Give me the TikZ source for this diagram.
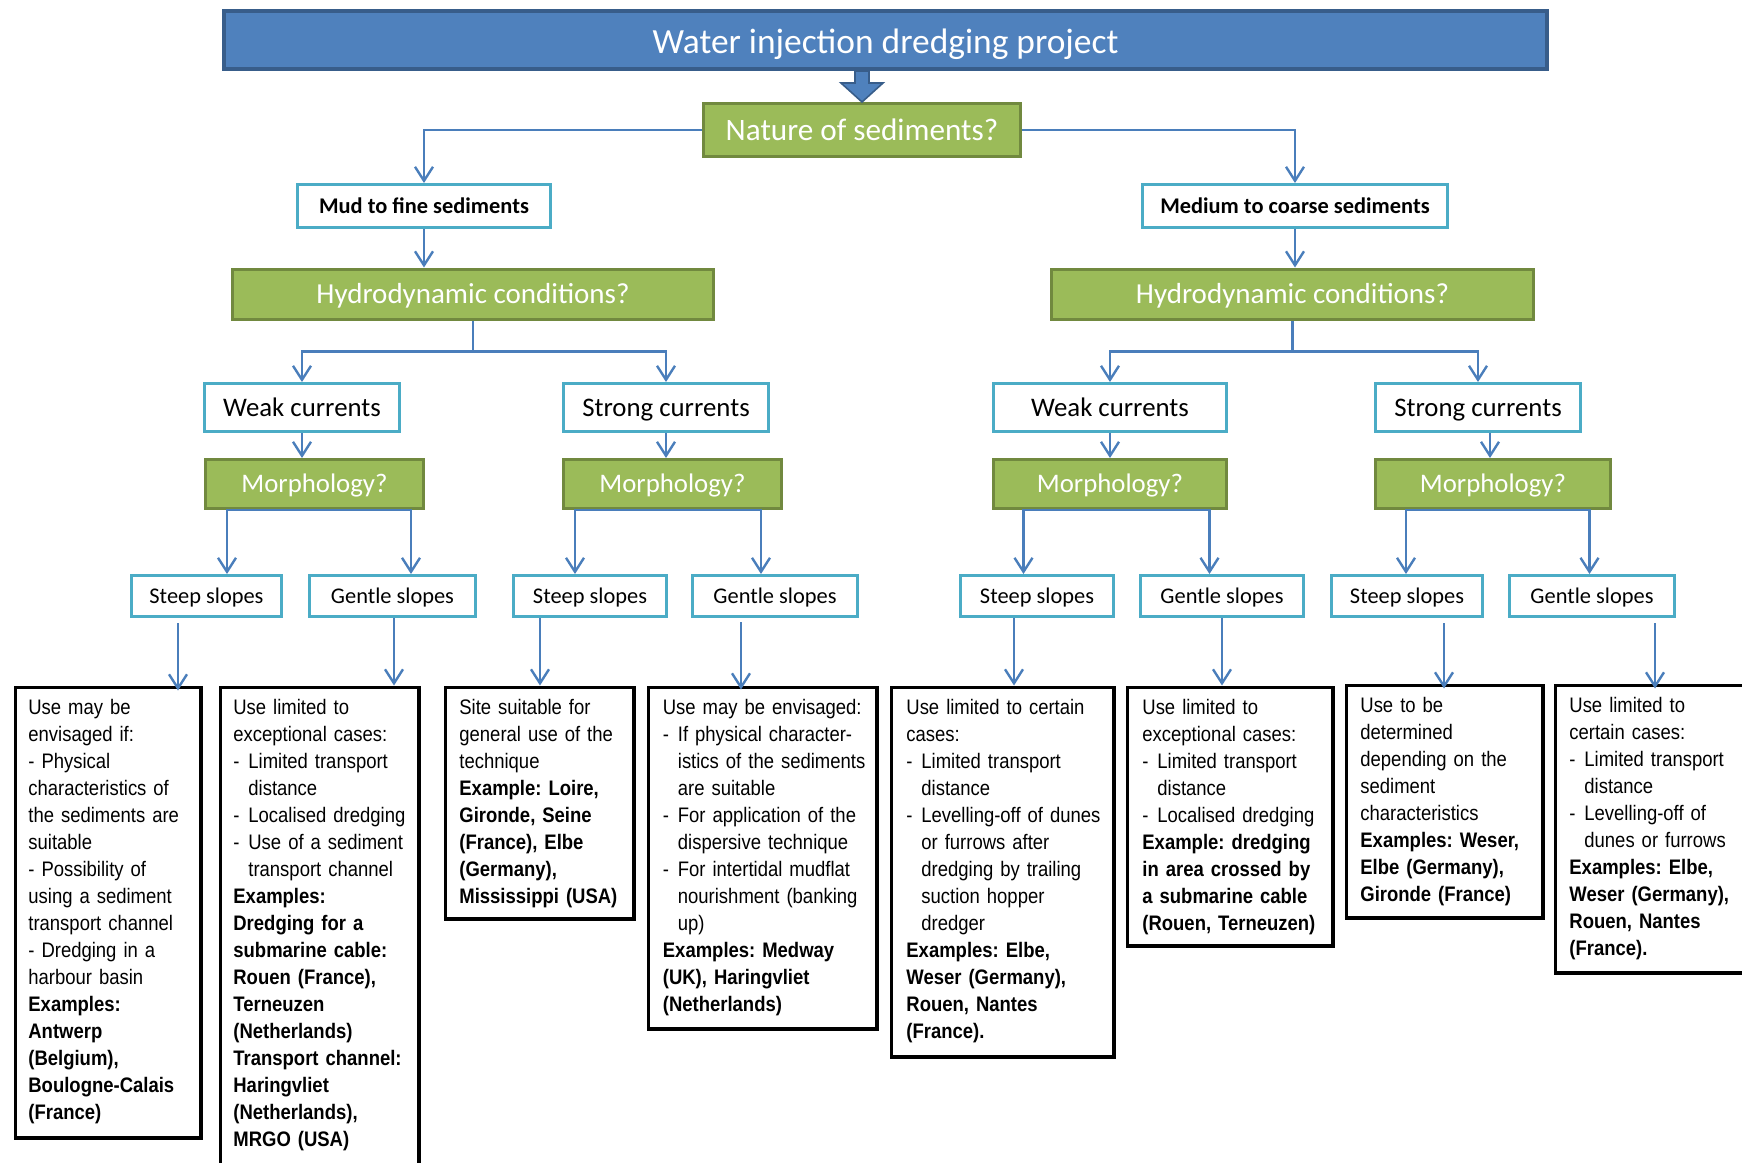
\documentclass[tikz,border=0pt]{standalone}
\usepackage{fontspec}
\setmainfont{Carlito}
\newfontfamily\boxfont[FakeStretch=0.88]{Liberation Sans}
\newfontfamily\labfont{Carlito}
\usetikzlibrary{arrows.meta,calc}
\definecolor{tblue}{HTML}{4F81BD}
\definecolor{tbluedark}{HTML}{385D8A}
\definecolor{tgreen}{HTML}{9BBB59}
\definecolor{tgreendark}{HTML}{71893F}
\definecolor{taqua}{HTML}{4BACC6}
\definecolor{cblue}{HTML}{4A7EBB}
\newcommand\myitem[1]{\makebox[7.5pt][l]{-}#1}
\newcommand\myind{\hspace*{7.5pt}}
\frenchspacing
\begin{document}
\frenchspacing
\begin{tikzpicture}[x=0.5pt,y=-0.5pt,
  every node/.style={inner sep=0pt},
  titlebox/.style={draw=tbluedark, fill=tblue, line width=2pt, text=white,
     font=\labfont\fontsize{17.7pt}{20pt}\selectfont, text height=13.2pt, text depth=0pt},
  qbox/.style={draw=tgreendark, fill=tgreen, line width=1.5pt, text=white},
  abox/.style={draw=taqua, fill=white, line width=1.5pt, text=black},
  tbox/.style={draw=black, line width=1.65pt, anchor=north west},
  ttext/.style={anchor=base west, text width=140pt, align=left,
     font=\boxfont\fontsize{10.5pt}{13.5pt}\selectfont\frenchspacing},
  conn/.style={draw=cblue, line width=1.2pt, -{Straight Barb[length=7pt,width=9pt]}},
  natq/.style={qbox, font=\labfont\fontsize{15.6pt}{18pt}\selectfont, text height=10pt, text depth=0pt},
  bigq/.style={qbox, font=\labfont\fontsize{14.5pt}{18pt}\selectfont, text height=9.3pt, text depth=0pt},
  midq/.style={qbox, font=\labfont\fontsize{13.4pt}{16pt}\selectfont, text height=8.6pt, text depth=0pt},
  mida/.style={abox, font=\labfont\fontsize{13.4pt}{16pt}\selectfont, text height=8.6pt, text depth=0pt},
  smalla/.style={abox, font=\labfont\fontsize{11.2pt}{14pt}\selectfont, minimum height=20.5pt, text height=7.2pt, text depth=0pt},
  sedbox/.style={abox, font=\labfont\bfseries\fontsize{11.2pt}{14pt}\selectfont, minimum height=21.5pt, text height=7.2pt, text depth=0pt},
]
\useasboundingbox (0,0) rectangle (1742,1163);
\clip (0,0) rectangle (1742,1163);

% ---- top levels
\node[titlebox, minimum width=661.5pt, minimum height=29pt] (title) at (885.5,40) {Water injection dredging project};
\node[natq, minimum width=158.5pt, minimum height=26.5pt] (nature) at (862,130) {Nature of sediments?};
\node[sedbox, minimum width=126.5pt] (mud) at (424,206) {Mud to fine sediments};
\node[sedbox, minimum width=152.5pt] (medium) at (1295,206) {Medium to coarse sediments};
\node[bigq, minimum width=240.5pt, minimum height=25pt] (hydroL) at (473,294) {Hydrodynamic conditions?};
\node[bigq, minimum width=241pt, minimum height=25pt] (hydroR) at (1292.5,294) {Hydrodynamic conditions?};

% ---- currents
\node[mida, minimum width=97.5pt, minimum height=24pt] (weakL) at (302,407.5) {Weak currents};
\node[mida, minimum width=102.5pt, minimum height=24pt] (strongL) at (666,407.5) {Strong currents};
\node[mida, minimum width=116.5pt, minimum height=24pt] (weakR) at (1110,407.5) {Weak currents};
\node[mida, minimum width=102.25pt, minimum height=24pt] (strongR) at (1478,407.5) {Strong currents};

% ---- morphology
\node[midq, minimum width=109pt, minimum height=24.5pt] (morph1) at (314.5,484) {Morphology?};
\node[midq, minimum width=109pt, minimum height=24.5pt] (morph2) at (672.5,484) {Morphology?};
\node[midq, minimum width=116.5pt, minimum height=24.5pt] (morph3) at (1110,484) {Morphology?};
\node[midq, minimum width=117.25pt, minimum height=24.5pt] (morph4) at (1493,484) {Morphology?};

% ---- slopes
\node[smalla, minimum width=75pt] (steep1) at (206.5,596) {Steep slopes};
\node[smalla, minimum width=83pt] (gentle1) at (392.5,596) {Gentle slopes};
\node[smalla, minimum width=76.25pt] (steep2) at (590,596) {Steep slopes};
\node[smalla, minimum width=82.5pt] (gentle2) at (775,596) {Gentle slopes};
\node[smalla, minimum width=76.25pt] (steep3) at (1037,596) {Steep slopes};
\node[smalla, minimum width=81.5pt] (gentle3) at (1222,596) {Gentle slopes};
\node[smalla, minimum width=75.75pt] (steep4) at (1407,596) {Steep slopes};
\node[smalla, minimum width=82.5pt] (gentle4) at (1592,596) {Gentle slopes};

% ---- text boxes
\node[tbox, minimum width=92.85pt, minimum height=225.35pt] (t1) at (13.5,685.5) {};
\node[tbox, minimum width=99.35pt, minimum height=243.85pt] (t2) at (218.5,685.5) {};
\node[tbox, minimum width=94.35pt, minimum height=115.85pt] (t3) at (443.5,685.5) {};
\node[tbox, minimum width=114.35pt, minimum height=170.85pt] (t4) at (646.5,685.5) {};
\node[tbox, minimum width=111.35pt, minimum height=184.85pt] (t5) at (889.5,685.5) {};
\node[tbox, minimum width=102.85pt, minimum height=129.35pt] (t6) at (1125.5,685.5) {};
\node[tbox, minimum width=98.35pt, minimum height=116.35pt] (t7) at (1344.5,683.5) {};
\node[tbox, minimum width=99pt, minimum height=143.85pt] (t8) at (1553.5,683.5) {};

\node[ttext] (t1x) at ($(t1.north west)+(14.5,28.5)$) {Use may be\\envisaged if:\\- Physical\\characteristics of\\the sediments are\\suitable\\- Possibility of\\using a sediment\\transport channel\\- Dredging in a\\harbour basin\\\textbf{Examples:}\\\textbf{Antwerp}\\\textbf{(Belgium),}\\\textbf{Boulogne-Calais}\\\textbf{(France)}};
\node[ttext] (t2x) at ($(t2.north west)+(14.5,28.5)$) {Use limited to\\exceptional cases:\\\myitem{Limited transport}\\\myind distance\\\myitem{Localised dredging}\\\myitem{Use of a sediment}\\\myind transport channel\\\textbf{Examples:}\\\textbf{Dredging for a}\\\textbf{submarine cable:}\\\textbf{Rouen (France),}\\\textbf{Terneuzen}\\\textbf{(Netherlands)}\\\textbf{Transport channel:}\\\textbf{Haringvliet}\\\textbf{(Netherlands),}\\\textbf{MRGO (USA)}};
\node[ttext] (t3x) at ($(t3.north west)+(15.5,28.5)$) {Site suitable for\\general use of the\\technique\\\textbf{Example: Loire,}\\\textbf{Gironde, Seine}\\\textbf{(France), Elbe}\\\textbf{(Germany),}\\\textbf{Mississippi (USA)}};
\node[ttext] (t4x) at ($(t4.north west)+(16,28.5)$) {Use may be envisaged:\\\myitem{If physical character-}\\\myind istics of the sediments\\\myind are suitable\\\myitem{For application of the}\\\myind dispersive technique\\\myitem{For intertidal mudflat}\\\myind nourishment (banking\\\myind up)\\\textbf{Examples: Medway}\\\textbf{(UK), Haringvliet}\\\textbf{(Netherlands)}};
\node[ttext] (t5x) at ($(t5.north west)+(16.5,28.5)$) {Use limited to certain\\cases:\\\myitem{Limited transport}\\\myind distance\\\myitem{Levelling-off of dunes}\\\myind or furrows after\\\myind dredging by trailing\\\myind suction hopper\\\myind dredger\\\textbf{Examples: Elbe,}\\\textbf{Weser (Germany),}\\\textbf{Rouen, Nantes}\\\textbf{(France).}};
\node[ttext] (t6x) at ($(t6.north west)+(16.5,28.5)$) {Use limited to\\exceptional cases:\\\myitem{Limited transport}\\\myind distance\\\myitem{Localised dredging}\\\textbf{Example: dredging}\\\textbf{in area crossed by}\\\textbf{a submarine cable}\\\textbf{(Rouen, Terneuzen)}};
\node[ttext] (t7x) at ($(t7.north west)+(15.5,28.5)$) {Use to be\\determined\\depending on the\\sediment\\characteristics\\\textbf{Examples: Weser,}\\\textbf{Elbe (Germany),}\\\textbf{Gironde (France)}};
\node[ttext] (t8x) at ($(t8.north west)+(15.5,28.5)$) {Use limited to\\certain cases:\\\myitem{Limited transport}\\\myind distance\\\myitem{Levelling-off of}\\\myind dunes or furrows\\\textbf{Examples: Elbe,}\\\textbf{Weser (Germany),}\\\textbf{Rouen, Nantes}\\\textbf{(France).}};

% ---- block arrow
\coordinate (btop) at (title.south -| nature.north);
\filldraw[fill=tblue, draw=tbluedark, line width=0.8pt]
  ($(btop)+(-7,0)$) -- ($(nature.north)+(-7,-19)$) -- ($(nature.north)+(-21,-19)$) -- (nature.north)
  -- ($(nature.north)+(21,-19)$) -- ($(nature.north)+(7,-19)$) -- ($(btop)+(7,0)$) -- cycle;

% ---- connectors
\draw[conn] (nature.west) -| (mud.north);
\draw[conn] (nature.east) -| (medium.north);
\draw[conn] (mud.south) -- (mud.south |- hydroL.north);
\draw[conn] (medium.south) -- (medium.south |- hydroR.north);
\draw[conn] (hydroL.south) -- ++(0,31) -| (weakL.north);
\draw[conn] (hydroL.south) -- ++(0,31) -| (strongL.north);
\draw[conn] (hydroR.south) -- ++(0,31) -| (weakR.north);
\draw[conn] (hydroR.south) -- ++(0,31) -| (strongR.north);

\draw[conn] (weakL.south) -- (weakL.south |- morph1.north);
\draw[conn] (strongL.south) -- (strongL.south |- morph2.north);
\draw[conn] (weakR.south) -- (weakR.south |- morph3.north);
\draw[conn] ([shift={(12,0)}]strongR.south) -- ([shift={(12,0)}]strongR.south |- morph4.north);

\draw[conn] (morph1.south) -| ([shift={(20.5,0)}]steep1.north);
\draw[conn] (morph1.south) -| ([shift={(18.5,0)}]gentle1.north);
\draw[conn] (morph2.south) -| ([shift={(-15,0)}]steep2.north);
\draw[conn] (morph2.south) -| ([shift={(-14,0)}]gentle2.north);
\draw[conn] (morph3.south) -| ([shift={(-13.5,0)}]steep3.north);
\draw[conn] (morph3.south) -| ([shift={(-12.5,0)}]gentle3.north);
\draw[conn] (morph4.south) -| ([shift={(-1,0)}]steep4.north);
\draw[conn] (morph4.south) -| ([shift={(-2.5,0)}]gentle4.north);

\draw[conn] ([shift={(-28.5,5)}]steep1.south) -- ([shift={(-28.5,5)}]steep1.south |- t1.north);
\draw[conn] ([shift={(1.5,0)}]gentle1.south) -- ([shift={(1.5,0)}]gentle1.south |- t2.north);
\draw[conn] ([shift={(-50,0)}]steep2.south) -- ([shift={(-50,0)}]steep2.south |- t3.north);
\draw[conn] ([shift={(-34,4)}]gentle2.south) -- ([shift={(-34,4)}]gentle2.south |- t4.north);
\draw[conn] ([shift={(-23,0)}]steep3.south) -- ([shift={(-23,0)}]steep3.south |- t5.north);
\draw[conn] (gentle3.south) -- (gentle3.south |- t6.north);
\draw[conn] ([shift={(37,5)}]steep4.south) -- ([shift={(37,5)}]steep4.south |- t7.north);
\draw[conn] ([shift={(63,5)}]gentle4.south) -- ([shift={(63,5)}]gentle4.south |- t8.north);
\end{tikzpicture}
\end{document}
